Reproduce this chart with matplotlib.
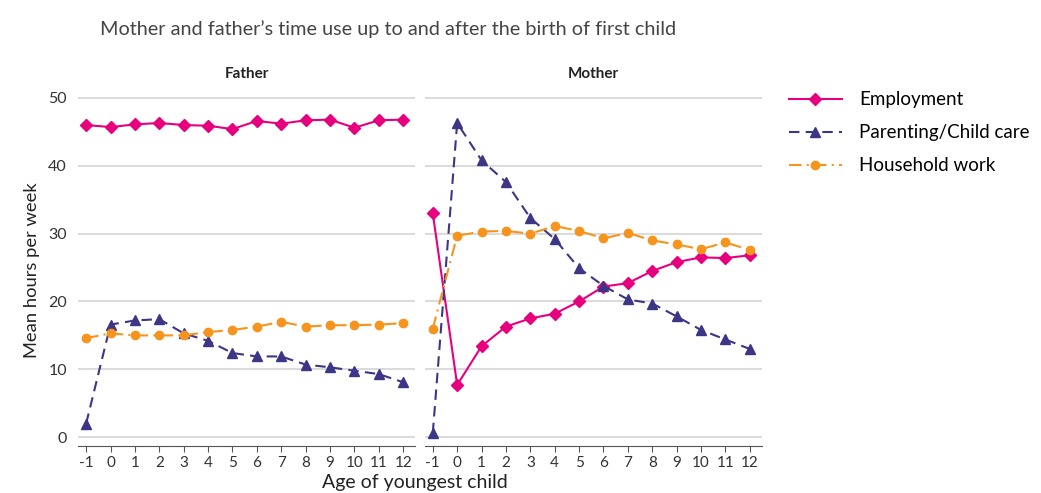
import numpy as np
import matplotlib.pyplot as plt

plt.rcParams['font.family'] = ['Lato', 'DejaVu Sans']

ages = [-1, 0, 1, 2, 3, 4, 5, 6, 7, 8, 9, 10, 11, 12]

# Father
f_emploi = [46.0, 45.7, 46.1, 46.3, 46.0, 45.9, 45.4, 46.6, 46.2, 46.7, 46.8, 45.6, 46.7, 46.8]
f_parent = [2.0, 16.6, 17.2, 17.4, 15.3, 14.2, 12.4, 11.9, 11.9, 10.7, 10.3, 9.8, 9.3, 8.1]
f_menage = [14.6, 15.3, 15.0, 15.0, 15.0, 15.5, 15.8, 16.3, 17.0, 16.3, 16.5, 16.5, 16.6, 16.8]

# Mother
m_emploi = [33.0, 7.7, 13.4, 16.3, 17.5, 18.2, 20.0, 22.2, 22.7, 24.5, 25.8, 26.5, 26.4, 26.8]
m_parent = [0.6, 46.3, 40.8, 37.6, 32.3, 29.2, 24.9, 22.3, 20.3, 19.7, 17.8, 15.8, 14.4, 13.0]
m_menage = [16.0, 29.7, 30.3, 30.4, 30.0, 31.1, 30.4, 29.3, 30.1, 29.0, 28.4, 27.7, 28.7, 27.6]

c_emploi = '#E6007E'
c_parent = '#3D3585'
c_menage = '#F7941D'

fig = plt.figure(figsize=(10.41, 4.93), dpi=100)
ax1 = fig.add_axes([0.075, 0.0953, 0.324, 0.713])
ax2 = fig.add_axes([0.408, 0.0953, 0.324, 0.713])

panneaux = [(ax1, 'Father', f_emploi, f_parent, f_menage),
            (ax2, 'Mother', m_emploi, m_parent, m_menage)]

for ax, titre, emp, par, men in panneaux:
    ax.plot(ages, emp, color=c_emploi, marker='D', markersize=6, linewidth=1.5,
            label='Employment', zorder=3)
    ax.plot(ages, par, color=c_parent, marker='^', markersize=6.5, linewidth=1.5,
            linestyle=(0, (5, 3)), label='Parenting/Child care', zorder=3)
    ax.plot(ages, men, color=c_menage, marker='o', markersize=6, linewidth=1.5,
            linestyle=(0, (6, 2.5, 1, 2.5)), label='Household work', zorder=3)
    ax.set_xlim(-1.33, 12.5)
    ax.set_ylim(-1.3, 50.5)
    ax.set_xticks(ages)
    ax.set_xticklabels([str(a) for a in ages], fontsize=11, color='#333333')
    ax.set_yticks([0, 10, 20, 30, 40, 50])
    ax.grid(axis='y', color='#d4d4d4', linewidth=1.2)
    ax.set_axisbelow(True)
    for s in ['top', 'right', 'left']:
        ax.spines[s].set_visible(False)
    ax.spines['bottom'].set_color('#555555')
    ax.tick_params(axis='x', length=4, color='#555555', pad=3)
    ax.tick_params(axis='y', length=0, labelsize=11.5, labelcolor='#333333', pad=8)
    ax.set_title(titre, fontsize=11, fontweight='bold', pad=12, color='#222222')

ax2.tick_params(axis='y', labelleft=False)

ax1.set_ylabel('Mean hours per week', fontsize=13.2, color='#222222', labelpad=6)
fig.text(0.399, 0.004, 'Age of youngest child', fontsize=14, color='#222222',
         ha='center', va='bottom')
fig.text(0.096, 0.93, "Mother and father\u2019s time use up to and after the birth of first child",
         fontsize=14.3, color='#444444')

h, l = ax1.get_legend_handles_labels()
fig.legend(h, l, loc='upper left', bbox_to_anchor=(0.758, 0.815), frameon=False,
           fontsize=13.5, handlelength=2.8, labelspacing=0.85, handletextpad=0.95,
           borderpad=0, borderaxespad=0)

plt.savefig('out.png', dpi=100)
